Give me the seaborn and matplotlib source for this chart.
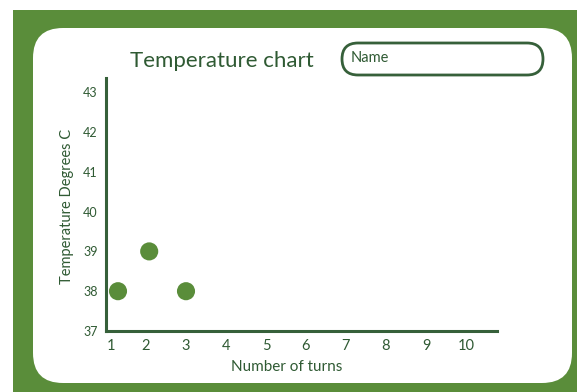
import matplotlib
matplotlib.use("Agg")
import matplotlib.pyplot as plt
from matplotlib.patches import Rectangle, FancyBboxPatch
from matplotlib.transforms import ScaledTranslation
import seaborn as sns
import pandas as pd

turns = [1.3, 2.08, 3.0]
temps = [38, 39, 38]
x_ticks = [1, 2, 3, 4, 5, 6, 7, 8, 9, 10]
y_ticks = [37, 38, 39, 40, 41, 42, 43]

GREEN = "#5a8d3a"
DARK = "#36603a"
TEXT = "#2f5a33"

sns.set_theme(style="white")
plt.rcParams['font.family'] = ['Lato', 'DejaVu Sans']

W, H = 582, 392
fig = plt.figure(figsize=(W / 100, H / 100), dpi=100)
fig.patch.set_facecolor("white")

def fx(px):
    return px / W

def fy(py):
    return 1 - py / H

# green frame
fig.patches.append(Rectangle((fx(13), 0), fx(577) - fx(13), fy(10), transform=fig.transFigure,
                             facecolor=GREEN, edgecolor="none", zorder=0))
# white rounded panel
fig.patches.append(FancyBboxPatch((33, H - 383), 572 - 33, 383 - 28,
                                  boxstyle="round,pad=0,rounding_size=30",
                                  transform=None, facecolor="white", edgecolor="none", zorder=1))
# name box
fig.patches.append(FancyBboxPatch((342, H - 75), 543 - 342, 75 - 43,
                                  boxstyle="round,pad=0,rounding_size=16",
                                  transform=None, facecolor="white", edgecolor=DARK,
                                  linewidth=2.0, zorder=2))
fig.text(fx(351), fy(58), "Name", color=TEXT, fontsize=10.5, ha="left", va="center", zorder=3)
fig.text(fx(222), fy(61), "Temperature chart", color=TEXT, fontsize=16, ha="center", va="center", zorder=3)

ax = fig.add_axes([fx(106), fy(331), fx(497) - fx(106), fy(78) - fy(331)])
ax.set_facecolor("none")
ax.set_zorder(3)

df = pd.DataFrame({"turns": turns, "temp": temps})
sns.scatterplot(data=df, x="turns", y="temp", ax=ax, color=GREEN, s=170,
                edgecolor="none", legend=False, zorder=4)

ax.set_xlim(1, 1 + (497 - 106) / 40)
ax.set_ylim(37, 37 + (331 - 78) / 39.8)
ax.set_xticks(x_ticks)
ax.set_yticks(y_ticks)
ax.set_xticklabels([str(v) for v in x_ticks], color=TEXT, fontsize=10.5)
ax.set_yticklabels([str(v) for v in y_ticks], color=TEXT, fontsize=9)
ax.tick_params(axis="both", length=0)
ax.tick_params(axis="x", pad=6)
ax.tick_params(axis="y", pad=6)
first = ax.get_xticklabels()[0]
first.set_transform(first.get_transform() + ScaledTranslation(5 / 100, 0, fig.dpi_scale_trans))
for s in ["top", "right"]:
    ax.spines[s].set_visible(False)
for s in ["left", "bottom"]:
    ax.spines[s].set_color(DARK)
    ax.spines[s].set_linewidth(2.2)
ax.grid(False)
ax.set_xlabel("Number of turns", color=TEXT, fontsize=11)
ax.xaxis.set_label_coords((287 - 106) / (497 - 106), -(360 - 331) / (331 - 78))
ax.set_ylabel("Temperature Degrees C", color=TEXT, fontsize=10.5)
ax.yaxis.set_label_coords(-(106 - 74) / (497 - 106), (331 - 206) / (331 - 78))

fig.savefig("out.png", dpi=100, facecolor=fig.get_facecolor())
